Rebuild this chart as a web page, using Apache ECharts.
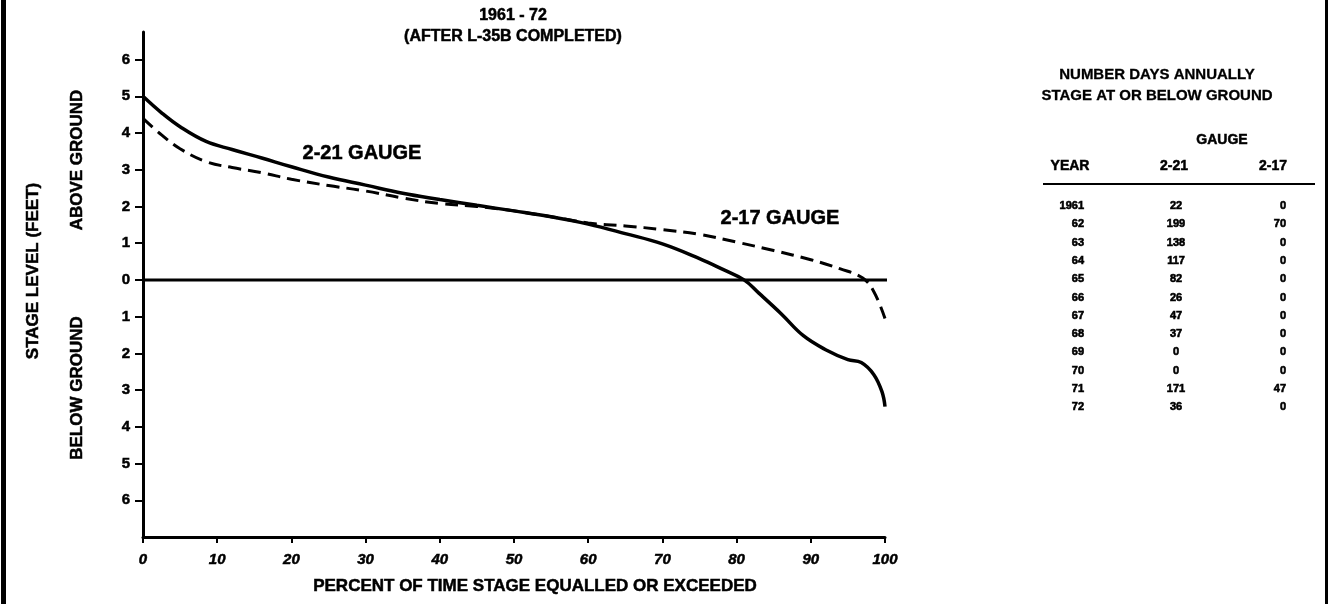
<!DOCTYPE html>
<html>
<head>
<meta charset="utf-8">
<script src="https://cdn.jsdelivr.net/npm/echarts@6/dist/echarts.min.js"></script>
<style>
  html, body { margin: 0; padding: 0; background: #fff; }
  #chart { width: 1330px; height: 604px; }
</style>
</head>
<body>
<div id="chart"></div>
<script>
// Stage-duration curves, 1961-72: percent of time a stage is equalled or exceeded (x)
// against stage level in feet relative to ground (y; negative = below ground).
const gauge221 = [
  [0, 5.0], [2.5, 4.55], [5, 4.17], [8.5, 3.77], [12, 3.55], [16, 3.32], [20, 3.08],
  [25, 2.8], [30, 2.58], [35, 2.36], [40, 2.19], [45, 2.03], [50, 1.88], [55, 1.72],
  [60, 1.52], [65, 1.26], [70, 0.98], [75, 0.58], [78, 0.3], [81, 0.0], [83, -0.36],
  [86, -0.92], [89, -1.52], [92, -1.9], [95, -2.17], [96.8, -2.25], [98.5, -2.58],
  [99.6, -3.05], [100, -3.45]
];
const gauge217 = [
  [0, 4.4], [2.5, 3.95], [5, 3.57], [8.5, 3.22], [12, 3.06], [16, 2.92], [20, 2.74],
  [25, 2.57], [30, 2.42], [35, 2.23], [40, 2.08], [45, 2.0], [50, 1.88], [55, 1.72],
  [60, 1.55], [65, 1.47], [70, 1.37], [75, 1.24], [80, 1.03], [85, 0.8], [90, 0.55],
  [94, 0.3], [97, 0.05], [98.5, -0.32], [100, -1.05]
];
// Ground level reference line (runs a little past 100 percent)
const groundLine = [[0, 0], [104.5, 0]];

const xTicks = [0, 10, 20, 30, 40, 50, 60, 70, 80, 90, 100];
const yTicks = [-6, -5, -4, -3, -2, -1, 0, 1, 2, 3, 4, 5, 6];

// Number of days annually with stage at or below ground
const years = ['1961', '62', '63', '64', '65', '66', '67', '68', '69', '70', '71', '72'];
const days221 = [22, 199, 138, 117, 82, 26, 47, 37, 0, 0, 171, 36];
const days217 = [0, 70, 0, 0, 0, 0, 0, 0, 0, 0, 47, 0];

const FONT = '"Liberation Sans", Arial, Helvetica, sans-serif';
const INK = '#000';

function txt(x, y, text, size, opts) {
  opts = opts || {};
  return {
    type: 'text',
    x: x, y: y,
    rotation: opts.rotation || 0,
    silent: true,
    style: {
      text: text,
      fill: INK,
      stroke: INK,
      lineWidth: opts.weight == null ? 0.5 : opts.weight,
      font: (opts.italic ? 'italic ' : '') + 'bold ' + size + 'px ' + FONT,
      align: opts.align || 'center',
      verticalAlign: 'middle',
      textAlign: opts.align || 'center',
      textVerticalAlign: 'middle'
    }
  };
}

const graphics = [
  // page frame
  { type: 'rect', shape: { x: 1, y: 0, width: 5, height: 604 }, style: { fill: INK }, silent: true },
  { type: 'rect', shape: { x: 1325, y: 0, width: 3, height: 604 }, style: { fill: INK }, silent: true },
  // titles
  txt(513, 16, '1961 - 72', 16),
  txt(513, 37, '(AFTER L-35B COMPLETED)', 16),
  // axis names
  txt(33, 271, 'STAGE LEVEL (FEET)', 17, { rotation: Math.PI / 2 }),
  txt(77, 160, 'ABOVE GROUND', 17, { rotation: Math.PI / 2 }),
  txt(77, 388, 'BELOW GROUND', 17, { rotation: Math.PI / 2 }),
  txt(535, 586, 'PERCENT OF TIME STAGE EQUALLED OR EXCEEDED', 17),
  // curve labels
  txt(362, 153, '2-21 GAUGE', 20),
  txt(780, 218, '2-17 GAUGE', 20),
  // table heading
  txt(1157, 75, 'NUMBER DAYS ANNUALLY', 15, { weight: 0.3 }),
  txt(1157, 96, 'STAGE AT OR BELOW GROUND', 15, { weight: 0.3 }),
  txt(1222, 140, 'GAUGE', 14),
  txt(1070, 166, 'YEAR', 14),
  txt(1174, 166, '2-21', 14),
  txt(1273, 166, '2-17', 14),
  { type: 'line', shape: { x1: 1043, y1: 184, x2: 1315, y2: 184 }, style: { stroke: INK, lineWidth: 2 }, silent: true }
];

// table rows built from the arrays above
years.forEach(function (yr, i) {
  const y = 206 + i * 18.3;
  graphics.push(txt(1084, y, yr, 11, { align: 'right', weight: 0.6 }));
  graphics.push(txt(1176, y, String(days221[i]), 11, { weight: 0.6 }));
  graphics.push(txt(1286, y, String(days217[i]), 11, { align: 'right', weight: 0.6 }));
});

const chart = echarts.init(document.getElementById('chart'), null, { renderer: 'canvas' });
chart.setOption({
  backgroundColor: '#fff',
  animation: false,
  grid: { left: 143, right: 445, top: 32, bottom: 67, containLabel: false },
  xAxis: {
    type: 'value',
    min: 0, max: 100, interval: 10,
    axisLine: { onZero: false, lineStyle: { color: INK, width: 3 } },
    axisTick: { show: true, length: 6, lineStyle: { color: INK, width: 2 } },
    axisLabel: {
      margin: 15, color: INK, fontFamily: FONT, fontSize: 15,
      fontWeight: 'bold', fontStyle: 'italic',
      textBorderColor: INK, textBorderWidth: 0.5,
      customValues: xTicks
    },
    splitLine: { show: false }
  },
  yAxis: {
    type: 'value',
    min: -7, max: 6.75,
    axisLine: { onZero: false, lineStyle: { color: INK, width: 3 } },
    axisTick: { show: true, length: 8, lineStyle: { color: INK, width: 2 }, customValues: yTicks },
    axisLabel: {
      margin: 13, color: INK, fontFamily: FONT, fontSize: 15, fontWeight: 'bold',
      textBorderColor: INK, textBorderWidth: 0.5,
      customValues: yTicks,
      formatter: function (v) { return String(Math.abs(v)); }
    },
    splitLine: { show: false }
  },
  series: [
    {
      name: 'ground', type: 'line', data: groundLine, symbol: 'none', clip: false, silent: true,
      lineStyle: { color: INK, width: 3 }
    },
    {
      name: '2-21 GAUGE', type: 'line', data: gauge221, symbol: 'none', smooth: 0.4, silent: true,
      lineStyle: { color: INK, width: 3.5 }
    },
    {
      name: '2-17 GAUGE', type: 'line', data: gauge217, symbol: 'none', smooth: 0.4, silent: true,
      lineStyle: { color: INK, width: 3, type: [13, 7] }
    }
  ],
  graphic: { elements: graphics }
});
</script>
</body>
</html>
